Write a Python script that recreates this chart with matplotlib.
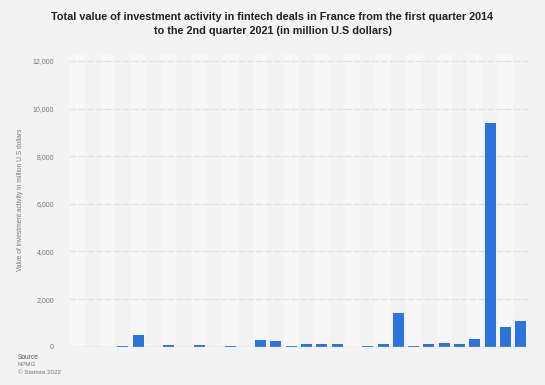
import matplotlib
matplotlib.use("Agg")
import matplotlib.pyplot as plt
import numpy as np

plt.rcParams['font.family'] = ['Liberation Sans', 'DejaVu Sans']

quarters = [f"Q{q} {y}" for y in range(2014, 2022) for q in range(1, 5)][:30]
values = [0, 0, 0, 30, 500, 0, 90, 0, 90, 0,
          30, 0, 290, 220, 40, 100, 100, 100, 0, 20,
          100, 1410, 40, 100, 170, 100, 320, 9400, 840, 1080]
yticks = [0, 2000, 4000, 6000, 8000, 10000, 12000]
ytick_labels = ["0", "2,000", "4,000", "6,000", "8,000", "10,000", "12,000"]

title = ("Total value of investment activity in fintech deals in France from the first quarter 2014\n"
         "to the 2nd quarter 2021 (in million U.S dollars)")
ylabel = "Value of investment activity in million U.S dollars"

bg = "#f3f3f3"
fig = plt.figure(figsize=(5.45, 3.85), dpi=100, facecolor=bg)
ax = fig.add_axes([0.1273, 0.0995, 0.8422, 0.7608])
ax.set_facecolor(bg)

x = np.arange(len(values))
for i in x:
    if i % 2 == 0:
        ax.axvspan(i - 0.5, i + 0.5, color="#f7f7f7", zorder=0, lw=0)

for t in yticks[1:]:
    ax.axhline(t, color="#e0e0e0", lw=0.8, ls=(0, (6, 2)), zorder=1)

ax.bar(x, values, width=0.72, color="#2a74dc", zorder=3)
ax.axhline(0, color="#c4c4c4", lw=1.0, zorder=4)

ax.set_xlim(-0.5, len(values) - 0.5)
ax.set_ylim(0, 12300)
ax.set_xticks([])
ax.set_yticks(yticks)
ax.set_yticklabels(ytick_labels, fontsize=5, color="#777777")
ax.tick_params(axis='y', length=0, pad=11)
for s in ax.spines.values():
    s.set_visible(False)

ax.set_ylabel(ylabel, fontsize=4.8, color="#777777", labelpad=6)

fig.text(0.5, 0.968, title, ha="center", va="top", fontsize=7.8, fontweight="bold",
         color="#222222", linespacing=1.5)

fig.text(0.033, 0.072, "Source", fontsize=4.8, color="#555555", va="center")
fig.text(0.033, 0.053, "KPMG", fontsize=4.5, color="#777777", va="center")
fig.text(0.033, 0.033, "© Statista 2022", fontsize=4.5, color="#777777", va="center")

fig.savefig("out.png", dpi=100, facecolor=bg)
